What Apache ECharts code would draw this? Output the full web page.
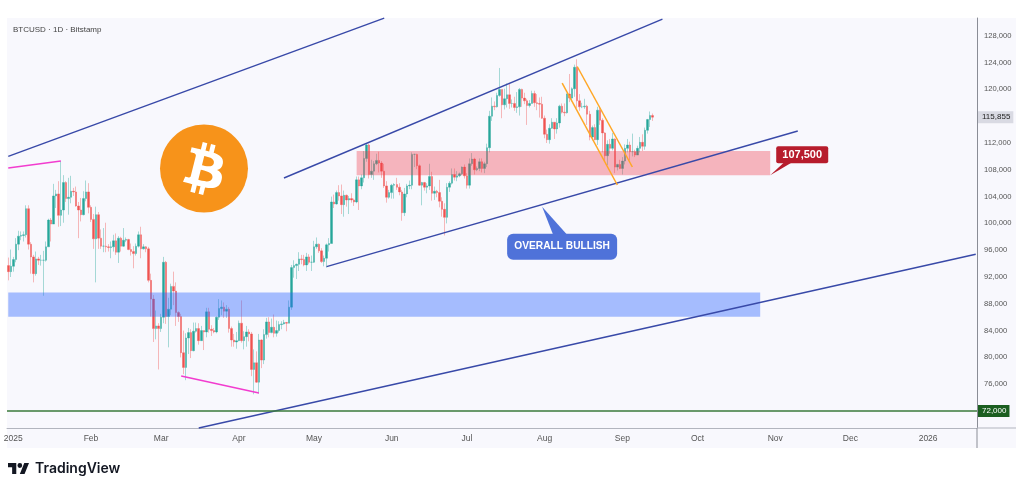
<!DOCTYPE html>
<html>
<head>
<meta charset="utf-8">
<title>BTCUSD</title>
<style>
    html, body { margin: 0; padding: 0; background: #fff; }
    #chart { width: 1024px; height: 490px; }
</style>
<script src="https://cdn.jsdelivr.net/npm/echarts@6/dist/echarts.min.js"></script>
</head>
<body>
<div id="chart"></div>
<script>
// daily candles from 2024-12-30 to 2025-09-13, in thousands of USD
var opens = [93.7, 92.8,
    93.6, 94.6, 96.9, 98.1, 98.2, 98.3, 102.2, 96.9, 95.0, 92.5, 94.7, 94.5, 94.5, 94.5, 96.5, 100.5, 99.9, 104.1, 104.4, 101.2, 102.0, 106.1, 103.7, 103.9, 104.8, 104.7, 102.6, 102.0, 101.3, 103.7, 104.7,
    102.4, 100.6, 97.7, 101.3, 97.8, 96.6, 96.6, 96.5, 96.4, 96.5, 97.4, 95.7, 97.8, 96.6, 97.5, 97.6, 96.1, 95.8, 95.5, 96.6, 98.3, 96.2, 96.5, 96.2, 91.5, 88.7, 84.3, 84.7,
    84.3, 86.0, 94.2, 86.1, 87.2, 90.6, 89.9, 86.7, 86.1, 80.7, 78.5, 82.9, 83.7, 81.0, 83.9, 84.3, 82.5, 84.0, 83.8, 86.8, 84.2, 84.0, 83.8, 86.0, 87.3, 87.5, 86.9, 87.2, 84.3, 82.6, 82.3,
    82.5, 85.1, 82.5, 83.1, 83.8, 83.5, 78.2, 79.2, 76.3, 82.6, 79.6, 83.4, 85.3, 83.7, 84.5, 83.6, 84.0, 84.9, 85.0, 85.2, 85.1, 87.5, 93.4, 93.7, 93.9, 94.7, 94.6, 93.8, 95.0, 94.2,
    94.2, 96.5, 96.9, 95.9, 94.3, 94.8, 96.8, 97.0, 103.2, 102.9, 104.6, 104.1, 102.8, 104.2, 103.5, 103.7, 103.5, 103.2, 106.5, 105.6, 106.8, 109.7, 111.7, 107.3, 107.8, 108.9, 109.4, 109.0, 107.8, 105.6, 103.9,
    104.6, 105.7, 105.8, 105.4, 104.7, 101.6, 104.4, 105.6, 105.7, 110.3, 110.3, 108.6, 105.7, 106.1, 105.4, 105.6, 107.0, 104.5, 104.8, 104.6, 103.3, 102.1, 100.9, 105.4, 106.0, 107.3, 106.9, 107.1, 107.4, 108.4,
    107.1, 105.7, 108.9, 109.6, 108.0, 108.2, 109.2, 108.2, 108.9, 111.3, 116.0, 117.5, 117.4, 119.1, 120.0, 117.7, 118.6, 119.2, 117.9, 117.9, 117.3, 117.4, 120.0, 118.7, 118.3, 117.6, 117.9, 119.4, 118.0, 117.9, 117.8,
    115.7, 113.3, 112.5, 114.2, 115.1, 114.1, 115.0, 117.5, 116.6, 116.5, 119.3, 118.7, 120.1, 123.3, 118.3, 117.4, 117.4, 117.5, 116.3, 112.9, 114.3, 112.5, 116.9, 115.4, 113.5, 110.1, 111.8, 111.2, 112.6, 108.4, 108.8,
    108.2, 109.3, 111.2, 111.7, 110.7, 110.7, 110.2, 111.2, 112.1, 111.5, 113.9, 115.5, 116.1];
var closes = [92.8, 93.6,
    94.6, 96.9, 98.1, 98.2, 98.3, 102.2, 96.9, 95.0, 92.5, 94.7, 94.5, 94.5, 94.5, 96.5, 100.5, 99.9, 104.1, 104.4, 101.2, 102.0, 106.1, 103.7, 103.9, 104.8, 104.7, 102.6, 102.0, 101.3, 103.7, 104.7, 102.4,
    100.6, 97.7, 101.3, 97.8, 96.6, 96.6, 96.5, 96.4, 96.5, 97.4, 95.7, 97.8, 96.6, 97.5, 97.6, 96.1, 95.8, 95.5, 96.6, 98.3, 96.2, 96.5, 96.2, 91.5, 88.7, 84.3, 84.7, 84.3,
    86.0, 94.2, 86.1, 87.2, 90.6, 89.9, 86.7, 86.1, 80.7, 78.5, 82.9, 83.7, 81.0, 83.9, 84.3, 82.5, 84.0, 83.8, 86.8, 84.2, 84.0, 83.8, 86.0, 87.3, 87.5, 86.9, 87.2, 84.3, 82.6, 82.3, 82.5,
    85.1, 82.5, 83.1, 83.8, 83.5, 78.2, 79.2, 76.3, 82.6, 79.6, 83.4, 85.3, 83.7, 84.5, 83.6, 84.0, 84.9, 85.0, 85.2, 85.1, 87.5, 93.4, 93.7, 93.9, 94.7, 94.6, 93.8, 95.0, 94.2, 94.2,
    96.5, 96.9, 95.9, 94.3, 94.8, 96.8, 97.0, 103.2, 102.9, 104.6, 104.1, 102.8, 104.2, 103.5, 103.7, 103.5, 103.2, 106.5, 105.6, 106.8, 109.7, 111.7, 107.3, 107.8, 108.9, 109.4, 109.0, 107.8, 105.6, 103.9, 104.6,
    105.7, 105.8, 105.4, 104.7, 101.6, 104.4, 105.6, 105.7, 110.3, 110.3, 108.6, 105.7, 106.1, 105.4, 105.6, 107.0, 104.5, 104.8, 104.6, 103.3, 102.1, 100.9, 105.4, 106.0, 107.3, 106.9, 107.1, 107.4, 108.4, 107.1,
    105.7, 108.9, 109.6, 108.0, 108.2, 109.2, 108.2, 108.9, 111.3, 116.0, 117.5, 117.4, 119.1, 120.0, 117.7, 118.6, 119.2, 117.9, 117.9, 117.3, 117.4, 120.0, 118.7, 118.3, 117.6, 117.9, 119.4, 118.0, 117.9, 117.8, 115.7,
    113.3, 112.5, 114.2, 115.1, 114.1, 115.0, 117.5, 116.6, 116.5, 119.3, 118.7, 120.1, 123.3, 118.3, 117.4, 117.4, 117.5, 116.3, 112.9, 114.3, 112.5, 116.9, 115.4, 113.5, 110.1, 111.8, 111.2, 112.6, 108.4, 108.8, 108.2,
    109.3, 111.2, 111.7, 110.7, 110.7, 110.2, 111.2, 112.1, 111.5, 113.9, 115.5, 116.1, 115.855];
var lows = [91.5, 92.0,
    92.8, 94.2, 96.0, 97.5, 97.3, 97.9, 96.1, 92.5, 91.2, 92.2, 93.8, 93.7, 89.2, 94.3, 96.5, 97.3, 99.9, 102.3, 99.5, 99.6, 100.1, 103.2, 101.3, 103.0, 104.1, 102.5, 97.8, 100.3, 101.2, 103.3, 101.5,
    100.2, 96.2, 91.2, 96.2, 96.2, 95.7, 95.7, 95.8, 94.8, 95.8, 95.3, 94.1, 95.8, 96.5, 97.2, 96.0, 95.2, 93.3, 95.2, 96.4, 94.8, 96.1, 95.7, 91.2, 86.1, 82.3, 82.7, 78.2,
    83.8, 85.1, 85.0, 81.5, 86.3, 87.8, 84.7, 85.3, 80.0, 77.5, 76.6, 80.5, 79.9, 80.9, 83.7, 81.9, 82.5, 81.1, 83.0, 83.7, 83.2, 83.6, 83.6, 85.6, 86.3, 85.9, 85.9, 83.7, 81.6, 81.6, 81.3,
    82.4, 82.2, 81.2, 81.6, 82.4, 77.2, 74.5, 76.2, 74.6, 78.4, 79.0, 82.8, 83.0, 83.6, 83.0, 83.1, 83.7, 84.2, 84.9, 83.9, 85.1, 87.1, 91.9, 91.7, 92.9, 93.9, 93.6, 92.9, 93.9, 92.9,
    94.1, 96.2, 95.6, 94.1, 93.6, 93.4, 95.8, 97.0, 102.3, 102.8, 103.4, 101.4, 101.0, 102.5, 101.4, 103.1, 102.6, 103.0, 102.0, 105.1, 106.1, 109.2, 106.7, 106.8, 106.5, 108.7, 107.6, 106.8, 105.3, 103.1, 103.7,
    103.7, 103.7, 105.0, 104.2, 100.4, 101.1, 103.9, 105.1, 105.1, 108.4, 108.1, 105.6, 102.7, 104.9, 104.5, 105.0, 103.4, 103.5, 103.9, 102.4, 101.0, 98.2, 100.0, 104.7, 105.8, 106.4, 106.3, 106.9, 107.2, 106.7,
    105.2, 105.2, 108.6, 107.3, 107.8, 107.8, 107.6, 107.5, 108.4, 110.6, 115.3, 116.9, 117.3, 118.9, 115.7, 117.0, 117.3, 117.1, 117.3, 116.8, 116.5, 116.1, 117.4, 117.8, 114.7, 117.3, 117.9, 117.4, 116.9, 115.8, 115.6,
    112.7, 112.0, 111.9, 114.1, 112.6, 113.4, 114.3, 116.4, 116.0, 116.4, 118.1, 118.2, 118.9, 117.2, 116.8, 117.2, 117.1, 114.7, 112.4, 112.4, 112.4, 111.7, 114.7, 110.6, 109.3, 108.7, 110.4, 110.9, 107.5, 107.9, 108.1,
    107.3, 108.8, 110.6, 109.4, 110.0, 109.9, 110.2, 110.6, 110.8, 111.0, 113.4, 114.4, 115.3];
var highs = [94.9, 96.1,
    95.0, 97.8, 98.9, 98.8, 98.8, 102.7, 102.7, 97.2, 95.3, 95.8, 95.0, 95.3, 95.9, 97.3, 100.7, 100.8, 105.9, 105.0, 106.3, 109.3, 107.2, 106.3, 106.8, 107.1, 105.3, 105.5, 103.2, 103.8, 104.8, 106.4, 106.0,
    102.7, 101.4, 102.5, 101.7, 99.1, 99.3, 100.1, 96.9, 97.3, 98.3, 98.5, 98.1, 98.0, 99.3, 97.9, 97.7, 97.0, 96.6, 97.0, 98.8, 99.5, 96.9, 96.6, 96.5, 92.5, 89.3, 87.0, 85.1,
    86.5, 95.0, 94.4, 88.9, 91.0, 92.8, 91.2, 86.9, 86.5, 84.0, 83.6, 84.4, 84.2, 85.2, 85.2, 85.1, 84.7, 84.0, 87.4, 87.4, 84.8, 84.4, 86.1, 88.7, 88.5, 88.2, 87.8, 87.5, 84.6, 83.5, 83.8,
    85.5, 88.5, 83.9, 84.7, 84.2, 83.8, 81.2, 80.9, 83.5, 82.7, 84.2, 85.9, 86.0, 85.8, 86.4, 85.5, 85.4, 85.4, 85.6, 85.3, 88.5, 93.8, 94.5, 94.0, 95.7, 95.3, 95.3, 95.6, 95.4, 95.2,
    97.4, 97.9, 97.0, 96.3, 95.2, 97.0, 97.8, 104.0, 104.3, 104.9, 105.7, 105.8, 104.9, 104.3, 104.1, 104.5, 103.7, 107.0, 107.0, 107.3, 110.8, 112.0, 111.9, 109.5, 109.3, 110.4, 110.7, 109.3, 108.9, 106.3, 105.0,
    105.9, 106.0, 106.8, 106.0, 105.0, 105.3, 105.9, 106.4, 110.6, 110.4, 110.4, 108.8, 106.2, 106.2, 106.0, 108.9, 107.7, 105.5, 105.0, 106.5, 103.9, 103.0, 106.0, 106.3, 108.2, 108.2, 107.8, 107.6, 108.5, 108.8,
    107.5, 109.7, 110.5, 109.8, 108.5, 109.7, 109.7, 109.2, 111.9, 116.8, 118.8, 118.2, 119.5, 123.2, 120.0, 120.1, 120.9, 120.9, 118.5, 118.9, 119.6, 120.2, 120.1, 119.5, 118.6, 118.4, 119.8, 119.8, 119.3, 118.8, 118.9,
    116.1, 114.0, 114.8, 115.7, 115.1, 115.7, 117.7, 117.9, 117.9, 119.4, 122.3, 120.3, 123.7, 124.5, 119.3, 118.0, 118.6, 117.7, 116.8, 114.6, 114.8, 117.4, 117.4, 115.7, 113.6, 112.4, 112.6, 113.5, 112.7, 108.9, 109.5,
    109.9, 111.8, 112.6, 112.2, 113.4, 111.0, 111.6, 112.9, 113.3, 114.3, 115.6, 116.7, 116.4];

var yTicks = [72000, 76000, 80000, 84000, 88000, 92000, 96000, 100000, 104000, 108000, 112000, 120000, 124000, 128000];
var tickDates = ["2025-01-01", "2025-02-01", "2025-03-01", "2025-04-01", "2025-05-01", "2025-06-01", "2025-07-01", "2025-08-01", "2025-09-01", "2025-10-01", "2025-11-01", "2025-12-01", "2026-01-01"];
var tickNames = ["2025", "Feb", "Mar", "Apr", "May", "Jun", "Jul", "Aug", "Sep", "Oct", "Nov", "Dec", "2026"];

var lastPrice = 115855;
var supportPrice = 72000;
// [date, price, date, price]
var channelLines = [
    ["2024-12-30", 110000, "2025-05-29", 130650],
    ["2025-04-19", 106775, "2025-09-17", 130500],
    ["2025-05-06", 93540, "2025-11-10", 113790],
    ["2025-03-16", 69470, "2026-01-20", 95390]
];
var divergenceLines = [
    ["2024-12-30", 108270, "2025-01-20", 109310],
    ["2025-03-09", 77220, "2025-04-09", 74690]
];
var flagLines = [
    ["2025-08-14", 123420, "2025-09-05", 108420],
    ["2025-08-08", 120950, "2025-08-30", 105730]
];
// [date, price, date, price]
var redZone = ["2025-05-18", 110800, "2025-10-30", 107200];
var blueZone = ["2024-12-30", 89700, "2025-10-26", 86050];
// [date, price, text]
var callouts = [
    ["2025-10-30", 107200, "107,500"],
    ["2025-07-31", 102500, "OVERALL BULLISH"]
];

function makeDates() {
    var list = [], d = Date.UTC(2024, 11, 30);
    for (var i = 0; i < 387; i++) {
        list.push(new Date(d + i * 864e5).toISOString().slice(0, 10));
    }
    return list;
}

function makeCandles() {
    return opens.map(function(v, i) {
        return [v * 1000, closes[i] * 1000, lows[i] * 1000, highs[i] * 1000];
    });
}

function segment(row, color, width) {
    return [{
        coord: [row[0], row[1]],
        lineStyle: { color: color, width: width, type: "solid" }
    }, {
        coord: [row[2], row[3]]
    }];
}

function priceTag(value, bg, fg, text, lineColor, lineWidth) {
    return {
        yAxis: value,
        lineStyle: { color: lineColor, width: lineWidth, type: "solid" },
        label: {
            show: true,
            position: "end",
            distance: 1,
            formatter: text,
            color: fg,
            backgroundColor: bg,
            fontSize: 8,
            padding: [2, 3, 2, 4],
            fontFamily: "Liberation Sans"
        }
    };
}

function renderCallout(params, api) {
    var tip = api.coord([api.value(0), api.value(1)]);
    var red = params.dataIndex === 0;
    var color = red ? "#b71c2c" : "#4f72d9";
    var box = red ? { x: 6, y: -29, w: 52, h: 17 } : { x: -35, y: 27, w: 110, h: 26 };
    var base = red ? [[tip[0] + 14, tip[1] - 13], [tip[0] + 22, tip[1] - 13]] : [[tip[0] + 11, tip[1] + 28], [tip[0] + 25, tip[1] + 28]];
    return {
        type: "group",
        children: [{
            type: "polygon",
            shape: { points: [tip, base[0], base[1]] },
            style: { fill: color }
        }, {
            type: "rect",
            shape: { x: tip[0] + box.x, y: tip[1] + box.y, width: box.w, height: box.h, r: red ? 2 : 6 },
            style: { fill: color }
        }, {
            type: "text",
            x: tip[0] + box.x + box.w / 2,
            y: tip[1] + box.y + box.h / 2,
            style: {
                text: callouts[params.dataIndex][2],
                fill: "#fff",
                font: "bold " + (red ? 11 : 10.2) + "px 'Liberation Sans'",
                align: "center",
                verticalAlign: "middle"
            }
        }]
    };
}

var bitcoinPath = "M46.1 27.441c.638-4.258-2.606-6.547-7.039-8.074l1.438-5.768-3.512-.875-1.4 5.616c-.923-.23-1.871-.447-2.813-.662l1.41-5.653-3.509-.875-1.439 5.766c-.764-.174-1.514-.346-2.242-.527l.004-.018-4.842-1.209-.934 3.75s2.605.597 2.55.634c1.422.355 1.679 1.296 1.636 2.042l-1.638 6.571c.098.025.225.061.365.117l-.371-.092-2.296 9.205c-.174.432-.615 1.08-1.609.834.035.051-2.552-.637-2.552-.637l-1.743 4.02 4.57 1.139c.85.213 1.683.436 2.503.646l-1.453 5.835 3.507.875 1.44-5.772c.958.26 1.888.5 2.798.726l-1.434 5.745 3.511.875 1.453-5.823c5.987 1.133 10.489.676 12.384-4.739 1.527-4.36-.076-6.875-3.226-8.515 2.294-.529 4.022-2.038 4.483-5.155zM38.08 38.69c-1.085 4.36-8.426 2.003-10.806 1.412l1.928-7.729c2.38.594 10.012 1.77 8.878 6.317zm1.086-11.312c-.99 3.966-7.1 1.951-9.082 1.457l1.748-7.007c1.982.494 8.365 1.416 7.334 5.55z";
var tvPath = "M14 22H7V11H0V4h14v18zM28 22h-8l7.5-18h8L28 22zM24 8a4 4 0 1 1-8 0a4 4 0 1 1 8 0z";

// the two logos, custom series because graphic has no path element
function renderLogos() {
    return {
        type: "group",
        children: [{
            type: "circle",
            shape: { cx: 204, cy: 168.5, r: 44 },
            style: { fill: "#f7931a" }
        }, {
            type: "path",
            shape: { pathData: bitcoinPath, x: 183, y: 142, width: 40, height: 53, layout: "cover" },
            style: { fill: "#fff" }
        }, {
            type: "path",
            shape: { pathData: tvPath, x: 8, y: 463, width: 21, height: 11, layout: "cover" },
            style: { fill: "#131722" }
        }]
    };
}

var chart = echarts.init(document.getElementById("chart"), null, { renderer: "canvas" });
var lines = [];
channelLines.forEach(function(row) { lines.push(segment(row, "#3849a8", 1.4)); });
divergenceLines.forEach(function(row) { lines.push(segment(row, "#f23ccf", 1.5)); });
flagLines.forEach(function(row) { lines.push(segment(row, "#ffa726", 1.5)); });
lines.push(priceTag(supportPrice, "#1b5e20", "#fff", "72,000", "#3a7a3a", 1.5));
lines.push(priceTag(lastPrice, "#d9dae3", "#222", "115,855", "rgba(0,0,0,0)", 1));

chart.setOption({
    animation: false,
    backgroundColor: "#fff",
    title: {
        text: "BTCUSD · 1D · Bitstamp",
        left: 8,
        top: 21,
        textStyle: { fontSize: 8, fontWeight: "normal", color: "#444", fontFamily: "Liberation Sans" }
    },
    grid: { left: 7, right: 47, top: 18, bottom: 62 },
    xAxis: {
        type: "category",
        data: makeDates(),
        axisLine: { lineStyle: { color: "#b2b5be", width: 1 } },
        axisTick: { show: false },
        splitLine: { show: false },
        axisLabel: {
            color: "#555",
            fontSize: 8.5,
            margin: 6,
            fontFamily: "Liberation Sans",
            hideOverlap: false,
            interval: function(index, value) {
                return tickDates.indexOf(value) >= 0;
            },
            formatter: function(value) {
                return tickNames[tickDates.indexOf(value)];
            }
        }
    },
    yAxis: {
        type: "value",
        position: "right",
        min: 69463,
        max: 130657,
        axisLine: { show: true, lineStyle: { color: "#8a8d96", width: 1 } },
        axisTick: { show: false },
        splitLine: { show: false },
        axisLabel: {
            color: "#555",
            fontSize: 7.6,
            margin: 7,
            fontFamily: "Liberation Sans",
            customValues: yTicks,
            formatter: function(v) {
                return String(v).replace(/(\d)(\d{3})$/, "$1,$2");
            }
        }
    },
    series: [{
        type: "candlestick",
        barWidth: 2,
        data: makeCandles(),
        itemStyle: {
            color: "#26a69a",
            color0: "#ef5350",
            borderColor: "#26a69a",
            borderColor0: "#ef5350",
            borderWidth: 0.4
        },
        markArea: {
            silent: true,
            z: 4,
            data: [[{
                coord: [redZone[0], redZone[1]],
                itemStyle: { color: "rgba(242,54,69,0.35)" }
            }, {
                coord: [redZone[2], redZone[3]]
            }], [{
                coord: [blueZone[0], blueZone[1]],
                itemStyle: { color: "rgba(41,98,255,0.4)" }
            }, {
                coord: [blueZone[2], blueZone[3]]
            }]]
        },
        markLine: {
            silent: true,
            z: 5,
            symbol: "none",
            label: { show: false },
            data: lines
        }
    }, {
        type: "custom",
        z: 6,
        silent: true,
        renderItem: renderCallout,
        encode: { x: 0, y: 1 },
        data: callouts.map(function(row) { return [row[0], row[1]]; })
    }, {
        type: "custom",
        coordinateSystem: "none",
        z: 8,
        silent: true,
        renderItem: renderLogos,
        data: [0]
    }],
    graphic: [{
        type: "rect",
        z: -10,
        shape: { x: 7, y: 18, width: 1009, height: 430 },
        style: { fill: "#f8f8fd" }
    }, {
        type: "line",
        z: 1,
        shape: { x1: 977, y1: 428, x2: 977, y2: 448 },
        style: { stroke: "#8a8d96", lineWidth: 1 }
    }, {
        type: "line",
        z: 1,
        shape: { x1: 977, y1: 428, x2: 1016, y2: 428 },
        style: { stroke: "#b2b5be", lineWidth: 1 }
    }, {
        type: "text",
        z: 9,
        x: 35,
        y: 469,
        style: { text: "TradingView", fill: "#131722", font: "600 14px Inter", verticalAlign: "middle" }
    }]
});
</script>
</body>
</html>
